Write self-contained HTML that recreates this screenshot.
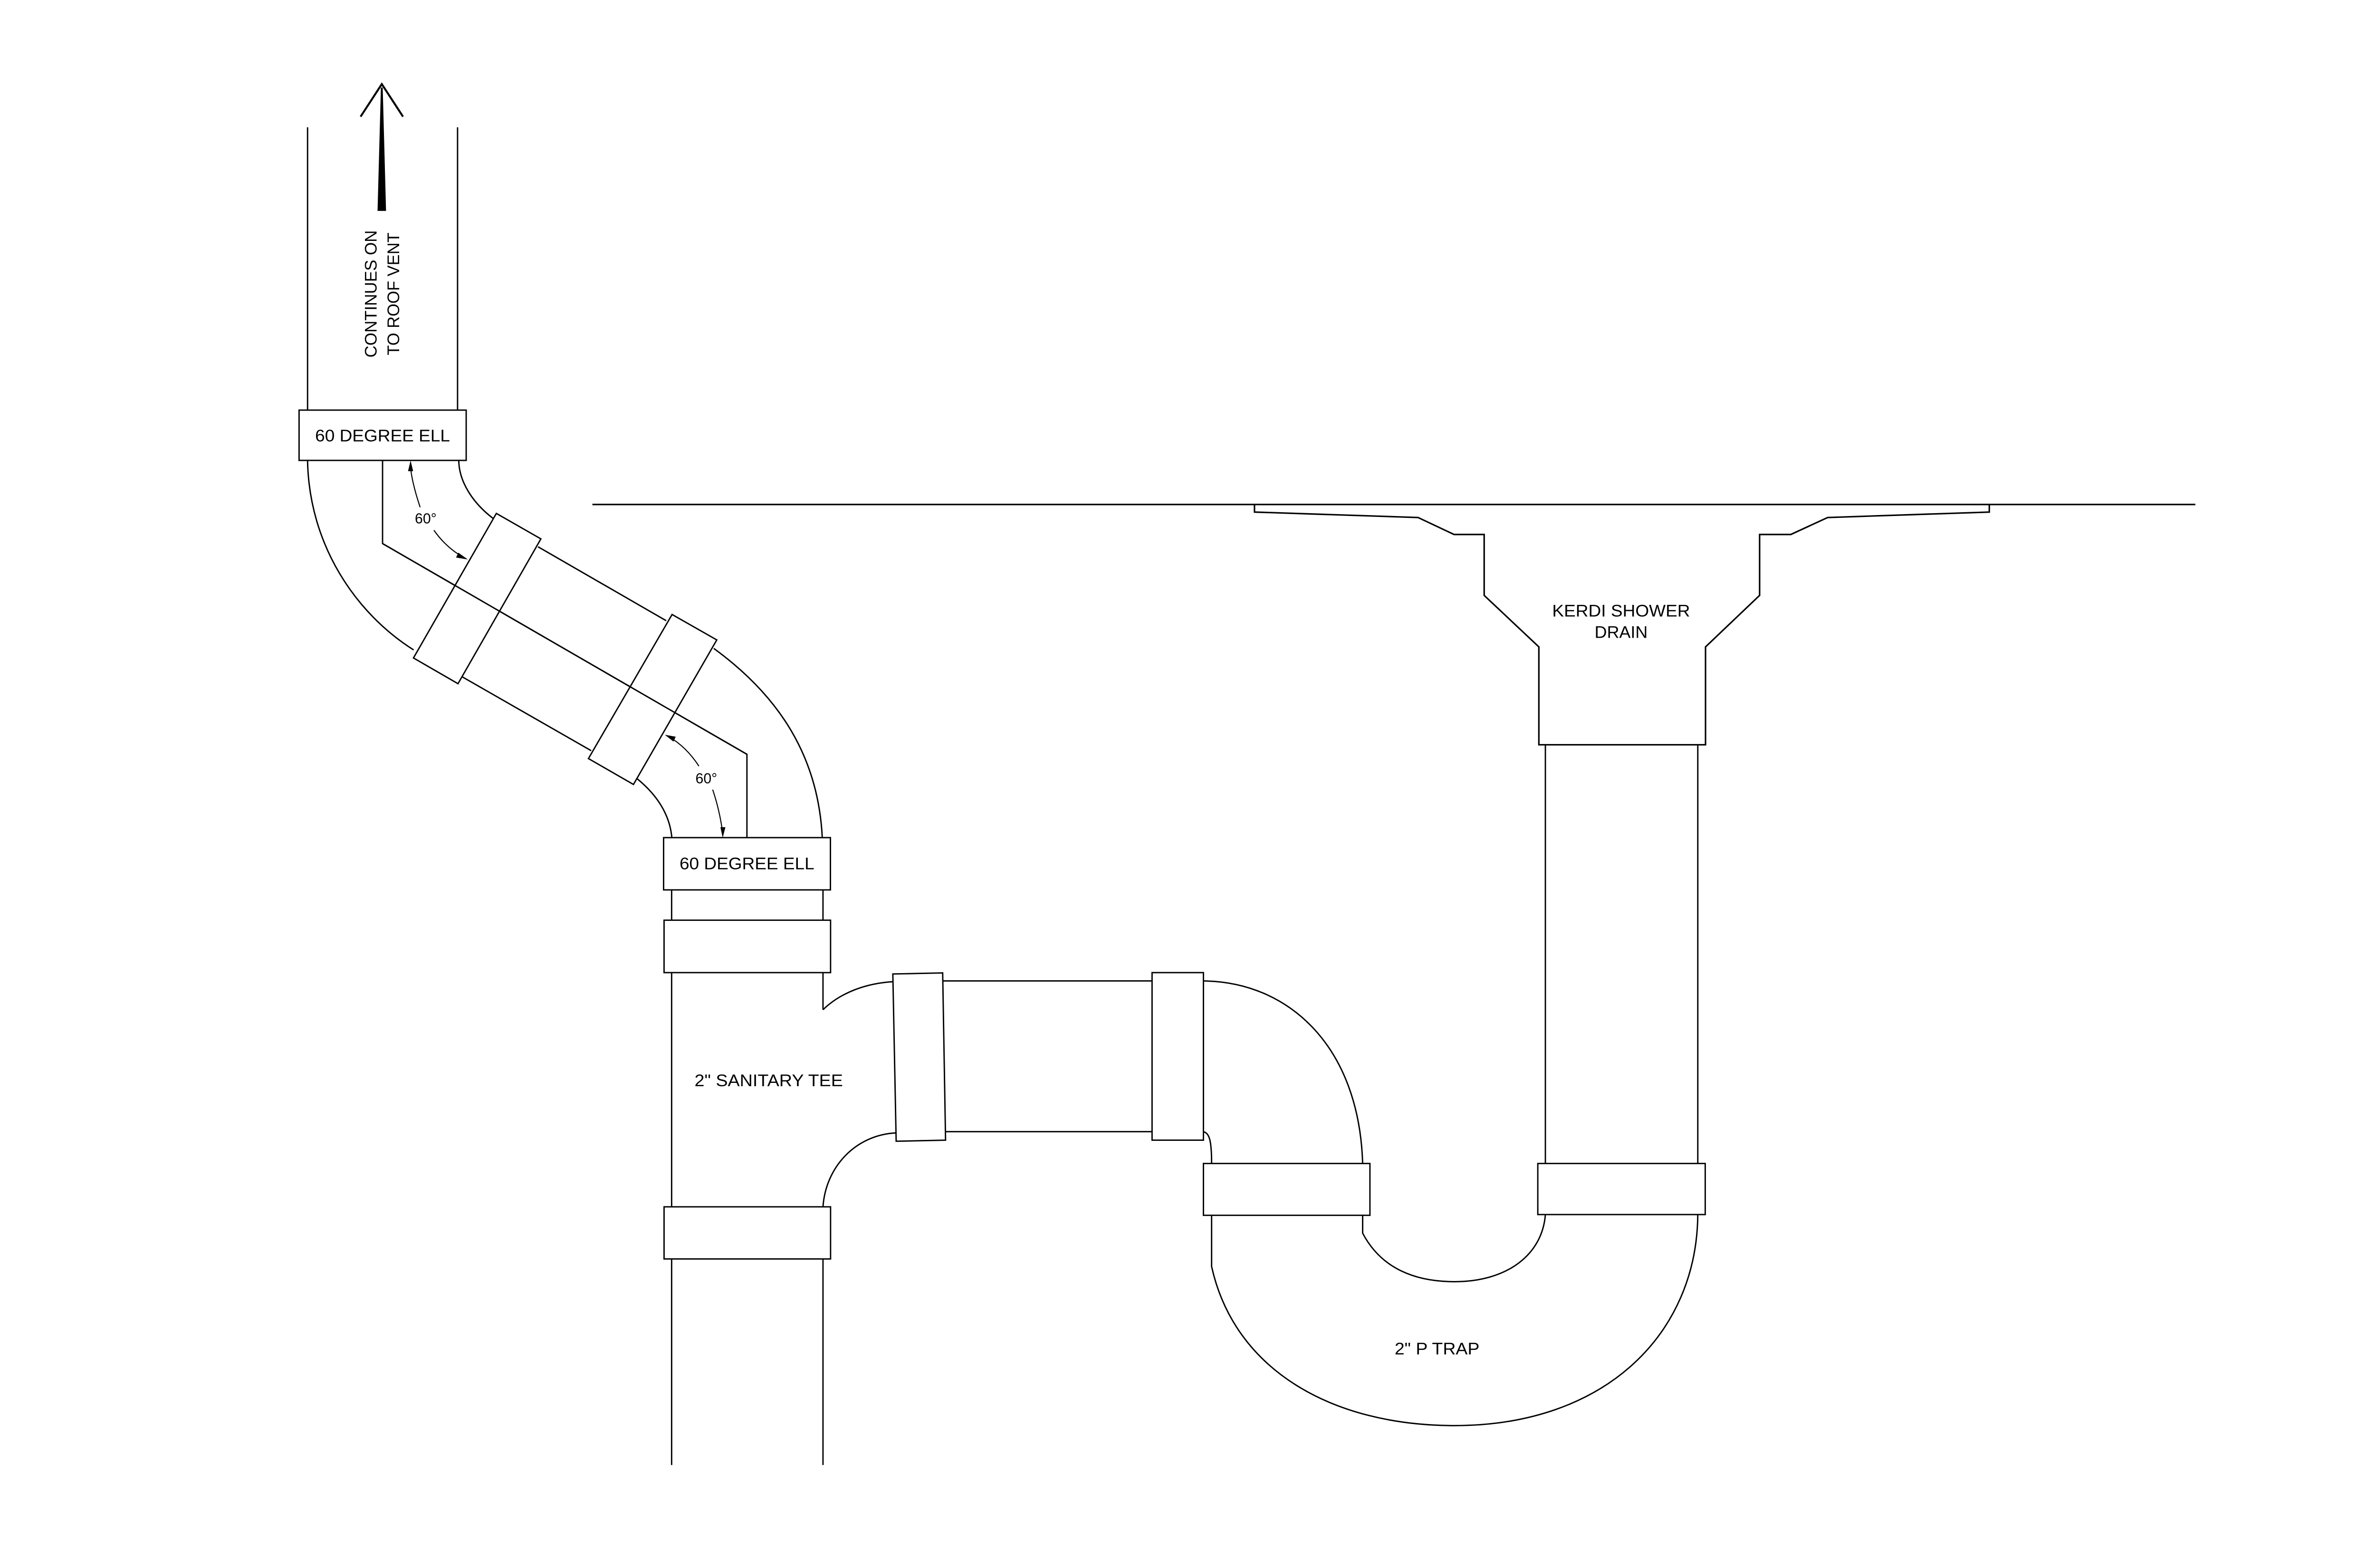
<!DOCTYPE html>
<html><head><meta charset="utf-8"><style>
html,body{margin:0;padding:0;background:#fff;}
svg{display:block;}
text{font-family:"Liberation Sans Narrow","Liberation Sans",sans-serif;fill:#000;}
</style></head><body>
<svg width="5100" height="3300" viewBox="0 0 1599.6 1035" preserveAspectRatio="none" xmlns="http://www.w3.org/2000/svg">
<rect x="0" y="0" width="1599.6" height="1035" fill="#fff"/>
<g fill="none" stroke="#000" stroke-width="0.9" stroke-linejoin="miter">
<line x1="203" y1="84" x2="203" y2="271"/>
<line x1="302" y1="84" x2="302" y2="271"/>
<path d="M203,304 C204,360 235,405 273,429"/>
<path d="M302.8,304 C303,318 312,332 325.6,342.3"/>
<polyline points="252.5,304 252.5,358.8 493,497.9 493,552.5"/>
<line x1="355.1" y1="360.9" x2="439.7" y2="409.7"/>
<line x1="304.8" y1="446.6" x2="390.2" y2="495.5"/>
<path d="M471.1,428 C515,460 540,500 542.7,552.5"/>
<path d="M420.6,514.1 C434,525 442,538 443.4,552.5"/>
</g>
<g fill="#fff" stroke="#000" stroke-width="0.9">
<polygon points="327.6,338.9 357,355.7 302.3,451.3 272.9,434.3"/>
<polygon points="443.6,405.6 473.1,422.4 418.1,517.8 388.4,500.7"/>
</g>
<g stroke="#000" stroke-width="0.9" fill="none">
<line x1="252.5" y1="358.8" x2="493" y2="497.9"/>
</g>
<g fill="none" stroke="#000" stroke-width="0.7">
<path d="M277.3,334.8 C273,322 271,312 271,307"/>
<path d="M286.4,350 C292,358 299,364 306,368"/>
<path d="M461.3,505.7 C455,496 448,490 441,486"/>
<path d="M470.4,521.2 C474,532 476,542 477,550"/>
</g>
<g fill="#000">
<polygon points="271,304 269.3,311 272.7,311"/>
<polygon points="308.8,369.3 302.5,364.8 301,368"/>
<polygon points="438.8,485 444.5,489.5 446,486.3"/>
<polygon points="477,553 475.5,546 478.8,546"/>
</g>
<text x="281" y="345.5" font-size="9.5" text-anchor="middle">60°</text>
<text x="466.2" y="517" font-size="9.5" text-anchor="middle">60°</text>
<g fill="#000" stroke="#000">
<polygon points="251.6,58 252.4,58 254.6,139 249.4,139" stroke-width="0.4"/>
<polyline points="238,77 252,55.5 266,77" fill="none" stroke-width="1.3"/>
</g>
<text font-size="11" text-anchor="middle" transform="translate(248.5,194) rotate(-90)" textLength="84" lengthAdjust="spacingAndGlyphs">CONTINUES ON</text>
<text font-size="11" text-anchor="middle" transform="translate(263.5,194) rotate(-90)" textLength="81" lengthAdjust="spacingAndGlyphs">TO ROOF VENT</text>
<g fill="#fff" stroke="#000" stroke-width="0.9">
<rect x="197.4" y="270.7" width="110.3" height="33.2"/>
<rect x="438" y="552.9" width="110.1" height="34.5"/>
<rect x="438.3" y="607.4" width="109.9" height="34.6"/>
<rect x="438.3" y="796.6" width="109.9" height="34.4"/>
</g>
<text x="252.5" y="291.3" font-size="11" text-anchor="middle" textLength="89" lengthAdjust="spacingAndGlyphs">60 DEGREE ELL</text>
<text x="493" y="573.8" font-size="11" text-anchor="middle" textLength="89" lengthAdjust="spacingAndGlyphs">60 DEGREE ELL</text>
<g fill="none" stroke="#000" stroke-width="0.9">
<line x1="443.3" y1="587.4" x2="443.3" y2="607.4"/>
<line x1="543.2" y1="587.4" x2="543.2" y2="607.4"/>
<line x1="443.3" y1="642" x2="443.3" y2="796.6"/>
<polyline points="543.2,642 543.2,666.5"/>
<path d="M543.2,666.5 C555,655 572,649 589.5,648"/>
<path d="M591.5,747.8 C565,749 545,770 543.2,796.6"/>
<line x1="443.3" y1="831" x2="443.3" y2="967"/>
<line x1="543.2" y1="831" x2="543.2" y2="967"/>
<line x1="622.2" y1="647.5" x2="760.4" y2="647.5"/>
<line x1="624" y1="747" x2="760.4" y2="747"/>
<path d="M794.3,647.5 C850,648 897,690 899.4,768"/>
<path d="M794.3,747 C798,748 799.7,752 799.7,768"/>
<path d="M799.7,802.2 L799.7,836 C815,905 880,941 960,941 C1060,941 1120,880 1120.6,801.7"/>
<path d="M899.4,802.2 L899.4,814 C912,838 935,846 960,846 C995,846 1018,828 1020,801.7"/>
<line x1="1020" y1="491.6" x2="1020" y2="768"/>
<line x1="1120.6" y1="491.6" x2="1120.6" y2="768"/>
</g>
<g fill="#fff" stroke="#000" stroke-width="0.9">
<polygon points="589.3,642.9 622.2,642.2 624.1,752.6 591.5,753.3"/>
<rect x="760.4" y="642" width="33.9" height="110.6"/>
<rect x="794.3" y="768" width="109.9" height="34.2"/>
<rect x="1015" y="768" width="110.5" height="33.7"/>
</g>
<text x="507.4" y="717" font-size="11" text-anchor="middle" textLength="98" lengthAdjust="spacingAndGlyphs">2" SANITARY TEE</text>
<text x="948.5" y="894" font-size="11" text-anchor="middle" textLength="56" lengthAdjust="spacingAndGlyphs">2" P TRAP</text>
<g fill="none" stroke="#000" stroke-width="1">
<line x1="391" y1="333" x2="1449" y2="333"/>
<polyline points="828,333 828,338 936,341.6 959.7,352.8 979.6,352.8 979.6,393 1015.7,427 1015.7,491.6 1125.7,491.6 1125.7,427 1161.4,393 1161.4,352.8 1182,352.8 1206.3,341.6 1313,338 1313,333"/>
</g>
<text x="1070" y="407" font-size="11" text-anchor="middle" textLength="91" lengthAdjust="spacingAndGlyphs">KERDI SHOWER</text>
<text x="1070" y="421" font-size="11" text-anchor="middle" textLength="35" lengthAdjust="spacingAndGlyphs">DRAIN</text>
</svg>
</body></html>
